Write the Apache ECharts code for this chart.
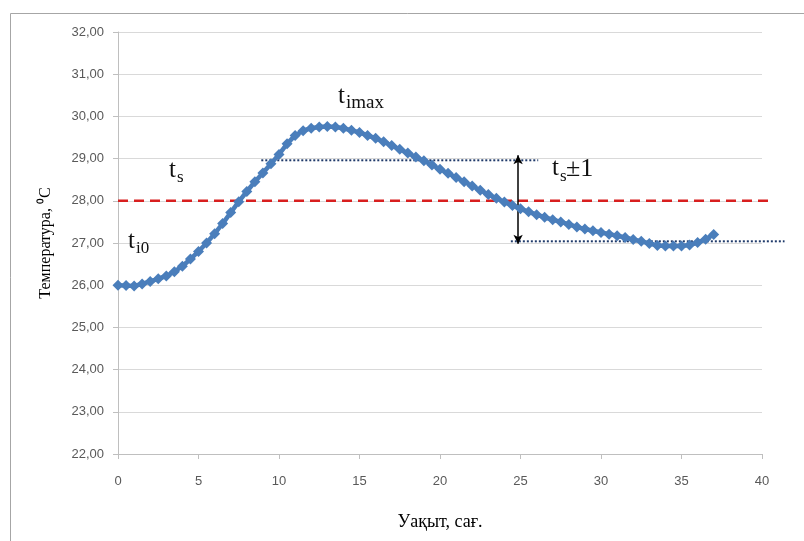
<!DOCTYPE html>
<html>
<head>
<meta charset="utf-8">
<script src="https://cdn.jsdelivr.net/npm/echarts@6/dist/echarts.min.js"></script>
<style>html,body{margin:0;padding:0;background:#fff}#c{width:804px;height:541px}</style>
</head>
<body>
<div id="c"></div>
<script>
const times = [0,0.5,1,1.5,2,2.5,3,3.5,4,4.5,5,5.5,6,6.5,7,7.5,8,8.5,9,9.5,10,10.5,11,11.5,12,12.5,13,13.5,14,14.5,15,15.5,16,16.5,17,17.5,18,18.5,19,19.5,20,20.5,21,21.5,22,22.5,23,23.5,24,24.5,25,25.5,26,26.5,27,27.5,28,28.5,29,29.5,30,30.5,31,31.5,32,32.5,33,33.5,34,34.5,35,35.5,36,36.5,37];
const temps = [26.00,25.99,25.98,26.03,26.09,26.15,26.22,26.32,26.45,26.62,26.80,27.00,27.22,27.46,27.72,27.98,28.22,28.45,28.66,28.88,29.10,29.35,29.55,29.66,29.72,29.75,29.76,29.75,29.72,29.67,29.62,29.55,29.48,29.40,29.31,29.22,29.13,29.04,28.95,28.85,28.75,28.65,28.55,28.45,28.35,28.25,28.15,28.06,27.97,27.89,27.81,27.74,27.67,27.61,27.55,27.50,27.44,27.38,27.33,27.29,27.25,27.21,27.17,27.13,27.08,27.04,26.99,26.94,26.93,26.93,26.93,26.95,27.01,27.09,27.20];
const setpointLine = [[0,28],[40.7,28]];
const upperBand = [[8.9,28.96],[26.1,28.96]];
const lowerBand = [[24.4,27.04],[41.4,27.04]];
const arrowSpan = [[24.85,29.08],[24.85,26.98]];
const xTicks = {min:0,max:40,interval:5};
const yTicks = {min:22,max:32,interval:1};

const chart = echarts.init(document.getElementById('c'), null, {renderer:'canvas'});
const serif = 'Liberation Serif, Times New Roman, serif';
const sans = 'Liberation Sans, Arial, sans-serif';
const txt = (l,t,s,size)=>({type:'text',left:l,top:t,z:10,style:{text:s,font:size+'px '+serif,fill:'#111'}});
chart.setOption({
  animation:false,
  backgroundColor:'#fff',
  grid:{left:118,right:42,top:32,bottom:87,containLabel:false,outerBoundsMode:'none'},
  xAxis:{type:'value',min:xTicks.min,max:xTicks.max,interval:xTicks.interval,
    axisLine:{show:true,lineStyle:{color:'#bfbfbf',width:1}},
    axisTick:{show:true,length:5,lineStyle:{color:'#bfbfbf'}},
    splitLine:{show:false},
    axisLabel:{color:'#595959',fontFamily:sans,fontSize:13,margin:21},
    name:'Уақыт, сағ.',nameLocation:'middle',nameGap:59,
    nameTextStyle:{fontFamily:serif,fontSize:18,color:'#000'}},
  yAxis:{type:'value',min:yTicks.min,max:yTicks.max,interval:yTicks.interval,
    axisLine:{show:true,lineStyle:{color:'#bfbfbf',width:1}},
    axisTick:{show:true,length:5,lineStyle:{color:'#bfbfbf'}},
    splitLine:{show:true,lineStyle:{color:'#d9d9d9',width:1}},
    axisLabel:{color:'#595959',fontFamily:sans,fontSize:13,margin:14,
      formatter:v=>v.toFixed(2).replace('.',',')},
    name:'Температура, ⁰С',nameLocation:'middle',nameGap:64,nameRotate:90,
    nameTextStyle:{fontFamily:serif,fontSize:16,color:'#000'}},
  series:[
    {type:'line',data:times.map((t,i)=>[t,temps[i]]),symbol:'diamond',symbolSize:11,z:5,
      itemStyle:{color:'#4a7ebb'},lineStyle:{color:'#4a7ebb',width:4.5}},
    {type:'line',data:[],symbol:'none',z:6,
      markLine:{silent:true,symbol:['arrow','arrow'],symbolSize:[7,9],label:{show:false},
        lineStyle:{color:'#000',width:1.5,type:'solid'},
        data:[[{coord:arrowSpan[0]},{coord:arrowSpan[1]}]]}}
  ]
});
const px = p => chart.convertToPixel({gridIndex:0}, p);
const refLine = (pts, style) => ({type:'polyline', z:1, shape:{points:pts.map(px)}, style:Object.assign({fill:null}, style)});
chart.setOption({graphic:[
  {type:'rect',shape:{x:10.5,y:13.5,width:820,height:560},style:{fill:'none',stroke:'#a6a6a6',lineWidth:1},z:-1},
  refLine(setpointLine,{stroke:'#d81f1f',lineWidth:2.5,lineDash:[10,6]}),
  refLine(upperBand,{stroke:'#1f3a6a',lineWidth:2,lineDash:[2,2]}),
  refLine(lowerBand,{stroke:'#1f3a6a',lineWidth:2,lineDash:[2,2]}),
  txt(128,229,'t',25), txt(136,240,'i0',17),
  txt(169,158,'t',25), txt(177,169,'s',17),
  txt(338,84,'t',25), txt(346,94,'imax',19),
  txt(552,156,'t',25), txt(560,168,'s',17), txt(566,156,'±1',26)
]});
</script>
</body>
</html>
